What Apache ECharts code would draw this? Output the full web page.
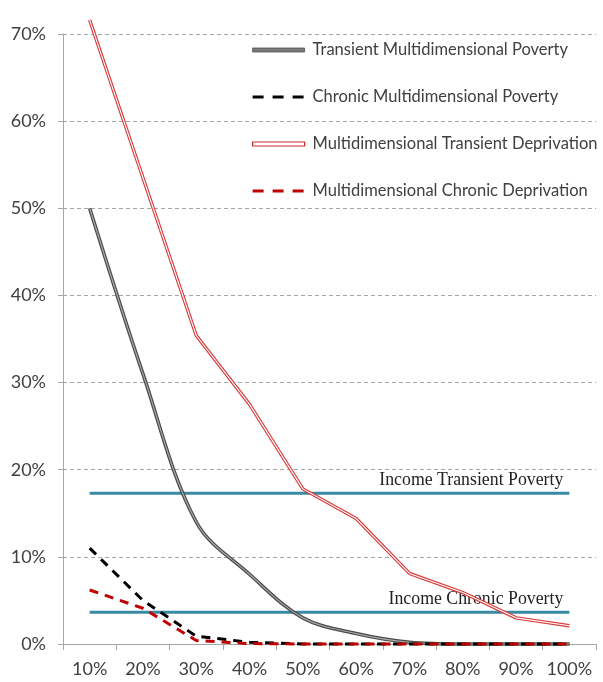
<!DOCTYPE html>
<html><head><meta charset="utf-8">
<script src="https://cdn.jsdelivr.net/npm/echarts@6/dist/echarts.min.js"></script>
<style>html,body{margin:0;padding:0;background:#fff}#c{width:603px;height:682px}</style>
</head><body><div id="c"></div>
<script>
const categories = ['10%','20%','30%','40%','50%','60%','70%','80%','90%','100%'];
const yTicks = [0,10,20,30,40,50,60,70];
const transientMulti = [50, 31, 14, 8, 3, 1.2, 0.2, 0, 0, 0];
const chronicMulti = [11, 5, 0.9, 0.2, 0, 0, 0, 0, 0, 0];
const multiTransientDep = [71.6, 53.5, 35.4, 27.5, 17.8, 14.4, 8.1, 5.9, 3.0, 2.1];
const multiChronicDep = [6.2, 4.1, 0.4, 0.05, 0, 0, 0, 0, 0, 0];
const incomeTransient = [17.3, 17.3, 17.3, 17.3, 17.3, 17.3, 17.3, 17.3, 17.3, 17.3];
const incomeChronic = [3.65, 3.65, 3.65, 3.65, 3.65, 3.65, 3.65, 3.65, 3.65, 3.65];
const names = ['Transient Multidimensional Poverty','Chronic Multidimensional Poverty','Multidimensional Transient Deprivation','Multidimensional Chronic Deprivation'];
const incomeLabels = ['Income Transient Poverty','Income Chronic Poverty'];

const chart = echarts.init(document.getElementById('c'), null, {renderer:'canvas'});
const sans = 'Lato';
const teal = '#3a8aa3';
function incomeData(arr, label){
  return arr.map((v,i)=> i===arr.length-1 ? {value:v, label:{show:true, formatter:label, position:'top', align:'right', offset:[-6,1], fontFamily:'Liberation Serif', fontSize:17.8, color:'#222'}} : v);
}
const option = {
  animation:false,
  grid:{left:63, right:7, top:34, bottom:38, containLabel:false},
  legend:{
    orient:'vertical', left:246, top:36, itemGap:29, itemWidth:52, itemHeight:4,
    textStyle:{fontFamily:sans, fontSize:16.5, lineHeight:18, color:'#404040', padding:[0,0,0,3]},
    data:[
      {name:names[0], icon:'rect', itemStyle:{color:'#7a7a7a', borderColor:'#505050', borderWidth:0.8}},
      {name:names[1], itemStyle:{opacity:0}, lineStyle:{type:[11,9], width:3.2, color:'#000'}},
      {name:names[2], icon:'rect', itemStyle:{color:'#ffffff', borderColor:'#d02a2a', borderWidth:1.2}},
      {name:names[3], itemStyle:{opacity:0}, lineStyle:{type:[11,9], width:3.2, color:'#c00000'}}
    ]
  },
  xAxis:{
    type:'category', data:categories, boundaryGap:true,
    axisLine:{lineStyle:{color:'#a6a6a6', width:1}},
    axisTick:{show:true, interval:0, length:6, lineStyle:{color:'#a6a6a6'}},
    axisLabel:{fontFamily:sans, fontSize:18, color:'#404040', margin:16, interval:0}
  },
  yAxis:{
    type:'value', min:0, max:70, interval:10,
    axisLine:{show:true, lineStyle:{color:'#a6a6a6'}},
    axisTick:{show:true, length:5, lineStyle:{color:'#a6a6a6'}},
    axisLabel:{fontFamily:sans, fontSize:18, color:'#404040', margin:17, formatter:v=> yTicks.includes(v)? v+'%':''},
    splitLine:{lineStyle:{color:'#a6a6a6', type:[4,3], width:1}}
  },
  series:[
    {name:incomeLabels[0], type:'line', data:incomeData(incomeTransient, incomeLabels[0]), symbol:'circle', showSymbol:true, symbolSize:0, lineStyle:{color:teal, width:3}, itemStyle:{color:teal}, z:1, silent:true},
    {name:incomeLabels[1], type:'line', data:incomeData(incomeChronic, incomeLabels[1]), symbol:'circle', showSymbol:true, symbolSize:0, lineStyle:{color:teal, width:3}, itemStyle:{color:teal}, z:1, silent:true},
    {name:names[0], type:'line', data:transientMulti, smooth:0.35, symbol:'none', clip:false, lineStyle:{color:'#4a4a4a', width:3.6}, itemStyle:{color:'#7a7a7a'}, z:3},
    {name:names[0]+' inner', type:'line', data:transientMulti, smooth:0.35, symbol:'none', clip:false, lineStyle:{color:'#a8a8a8', width:1.2}, z:3},
    {name:names[1], type:'line', data:chronicMulti, symbol:'none', clip:false, lineStyle:{color:'#000', width:3, type:[9,7]}, itemStyle:{color:'#000'}, z:3},
    {name:names[2], type:'line', data:multiTransientDep, symbol:'none', clip:false, lineStyle:{color:'#d83a3a', width:3.4}, itemStyle:{color:'#d83a3a'}, z:4},
    {name:names[2]+' inner', type:'line', data:multiTransientDep, symbol:'none', clip:false, lineStyle:{color:'#fff', width:1.1}, z:4},
    {name:names[3], type:'line', data:multiChronicDep, symbol:'none', clip:false, lineStyle:{color:'#c00000', width:3, type:[9,7]}, itemStyle:{color:'#c00000'}, z:5}
  ]
};
chart.setOption(option);
</script></body></html>
